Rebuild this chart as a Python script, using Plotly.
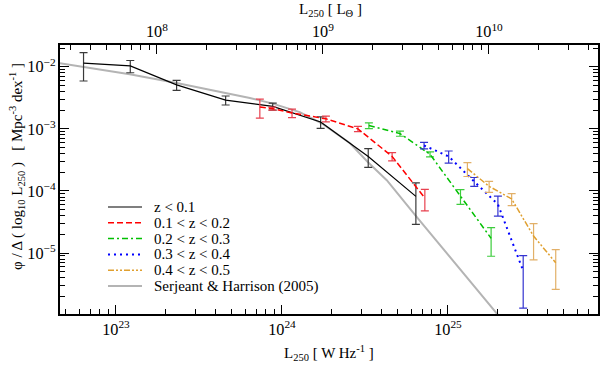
import plotly.graph_objects as go

# luminosity function bins (L250 in W/Hz, phi in Mpc^-3 dex^-1)
lum_z1 = [6.38e22, 1.22e23, 2.32e23, 4.58e23, 8.8e23, 1.71e24, 3.31e24, 6.41e24]
phi_z1 = [1.14e-2, 1.03e-2, 5.1e-3, 2.9e-3, 2.3e-3, 1.29e-3, 3.6e-4, 8.2e-5]
err_z1 = [5.5e-3, 2.3e-3, 9.5e-4, 4.8e-4, 3.0e-4, 2.7e-4, 1.2e-4, 5.3e-5]

lum_z2 = [7.36e23, 8.75e23, 1.15e24, 1.84e24, 2.87e24, 4.61e24, 7.26e24]
phi_z2 = [2.25e-3, 2.12e-3, 1.8e-3, 1.45e-3, 1.0e-3, 3.6e-4, 7.7e-5]
err_z2 = [7.6e-4, 1.2e-4, 2.8e-4, 1.5e-4, 1.0e-4, 5.5e-5, 2.9e-5]

lum_z3 = [3.34e24, 5.14e24, 7.8e24, 1.19e25, 1.82e25]
phi_z3 = [1.13e-3, 8.4e-4, 3.9e-4, 8.3e-5, 1.73e-5]
err_z3 = [1.2e-4, 8.0e-5, 3.6e-5, 2.2e-5, 8.4e-6]

lum_z4 = [7.18e24, 1.01e25, 1.44e25, 2.0e25, 2.84e25]
phi_z4 = [5.4e-4, 3.6e-4, 1.42e-4, 6.1e-5, 5.2e-6]
err_z4 = [6.4e-5, 8.0e-5, 2.3e-5, 2.15e-5, 3.9e-6]

lum_z5 = [1.31e25, 1.77e25, 2.42e25, 3.28e25, 4.46e25]
phi_z5 = [2.29e-4, 1.19e-4, 7.45e-5, 1.88e-5, 7.0e-6]
err_z5 = [5.8e-5, 2.4e-5, 1.63e-5, 1.1e-5, 4.4e-6]

# Serjeant & Harrison (2005) model curve
lum_sh = [4.6e22, 1.21e23, 2.32e23, 6.41e23, 8.71e23, 1.28e24, 1.77e24,
          2.57e24, 3.3e24, 4.28e24, 6.59e24, 1.96e25, 2.72e25]
phi_sh = [1.135e-2, 7.54e-3, 5.46e-3, 3.13e-3, 2.57e-3, 1.86e-3, 1.19e-3,
          5.88e-4, 2.9e-4, 1.49e-4, 3.63e-5, 1.07e-6, 3.77e-7]

labels = ["z < 0.1", "0.1 < z < 0.2", "0.2 < z < 0.3", "0.3 < z < 0.4",
          "0.4 < z < 0.5", "Serjeant & Harrison (2005)"]

FONT = "Liberation Serif, DejaVu Serif, serif"
X_RANGE = [22.663, 25.904]   # log10 W/Hz
Y_RANGE = [-5.98, -1.65]
LSUN_DEX = 15.247            # offset between W/Hz and L_sun top scale

series = [
    (lum_z1, phi_z1, err_z1, "#000000", "#3a3a3a", "solid", 1.2),
    (lum_z2, phi_z2, err_z2, "#ff0000", "#e8414f", "6px,3px", 1.5),
    (lum_z3, phi_z3, err_z3, "#00c000", "#3ccc3c", "6px,3px,2px,3px", 1.5),
    (lum_z4, phi_z4, err_z4, "#0000ff", "#3434d0", "2px,4px", 2),
    (lum_z5, phi_z5, err_z5, "#e0a030", "#e2b068", "6px,2px,2px,2px,2px,2px", 1.5),
]
sh_color = "#b4b4b4"

fig = go.Figure()

fig.add_trace(go.Scatter(x=lum_sh, y=phi_sh, mode="lines",
                         line=dict(color=sh_color, width=2), showlegend=False,
                         hoverinfo="skip"))

for lum, phi, err, col, ecol, dash, w in series:
    fig.add_trace(go.Scatter(
        x=lum, y=phi, mode="lines",
        line=dict(color=col, width=w, dash=dash),
        error_y=dict(type="data", array=err, visible=True, color=ecol,
                     thickness=1.2, width=4),
        showlegend=False))

# invisible trace so the top (solar-units) axis gets drawn
fig.add_trace(go.Scatter(x=[10 ** (X_RANGE[0] - LSUN_DEX), 10 ** (X_RANGE[1] - LSUN_DEX)],
                         y=[1e-3, 1e-3], xaxis="x2", mode="lines",
                         line=dict(width=0), opacity=0, showlegend=False,
                         hoverinfo="skip"))

axis_style = dict(
    type="log", showgrid=False, zeroline=False, showline=True, automargin=False,
    linecolor="black", linewidth=1.5, ticks="inside", ticklen=9,
    tickwidth=1, tickcolor="black", dtick=1, exponentformat="power",
    tickfont=dict(family=FONT, size=13, color="black"),
    minor=dict(ticks="inside", ticklen=5, tickwidth=1, tickcolor="black",
               dtick="D1", showgrid=False),
)

fig.update_layout(
    width=600, height=366,
    margin=dict(l=60, r=2, t=45, b=52),
    paper_bgcolor="white", plot_bgcolor="white",
    font=dict(family=FONT, size=15, color="black"),
    xaxis=dict(axis_style, range=X_RANGE),
    xaxis2=dict(axis_style, range=[X_RANGE[0] - LSUN_DEX, X_RANGE[1] - LSUN_DEX],
                overlaying="x", side="top", anchor="y"),
    yaxis=dict(axis_style, range=Y_RANGE, mirror="ticks"),
    showlegend=False,
)

# axis titles
fig.add_annotation(text="L<sub>250</sub> [ W Hz<sup>-1</sup> ]", xref="paper", yref="paper",
                   x=0.5, y=-0.145, showarrow=False, font=dict(size=15),
                   xanchor="center", yanchor="middle")
fig.add_annotation(text="L<sub>250</sub> [ L<sub>Θ</sub> ]", xref="paper", yref="paper",
                   x=0.502, y=1.13, showarrow=False, font=dict(size=15),
                   xanchor="center", yanchor="middle")
fig.add_annotation(text="φ / Δ ( log<sub>10</sub> L<sub>250</sub> )   [ Mpc<sup>-3</sup> dex<sup>-1</sup> ]",
                   xref="paper", yref="paper", x=-0.08, y=0.55, textangle=-90,
                   showarrow=False, font=dict(size=15),
                   xanchor="center", yanchor="middle")

# hand-drawn legend (line sample + label)
leg_styles = [(s[3], s[5], s[6]) for s in series] + [(sh_color, "solid", 2)]
row_px = 207
for label, (col, dash, w) in zip(labels, leg_styles):
    yp = (314 - row_px) / 269
    fig.add_shape(type="line", xref="paper", yref="paper",
                  x0=(108 - 60) / 538, x1=(142 - 60) / 538, y0=yp, y1=yp,
                  line=dict(color=col, width=w, dash=dash))
    fig.add_annotation(text=label, xref="paper", yref="paper",
                       x=(152 - 60) / 538, y=yp, showarrow=False,
                       xanchor="left", yanchor="middle", font=dict(size=15))
    row_px += 15.8

# page body has a default 8px margin; drop it so the figure sits at the corner
fig.write_html("out.html", config={"displayModeBar": False},
               post_script="document.body.style.margin='0';")
